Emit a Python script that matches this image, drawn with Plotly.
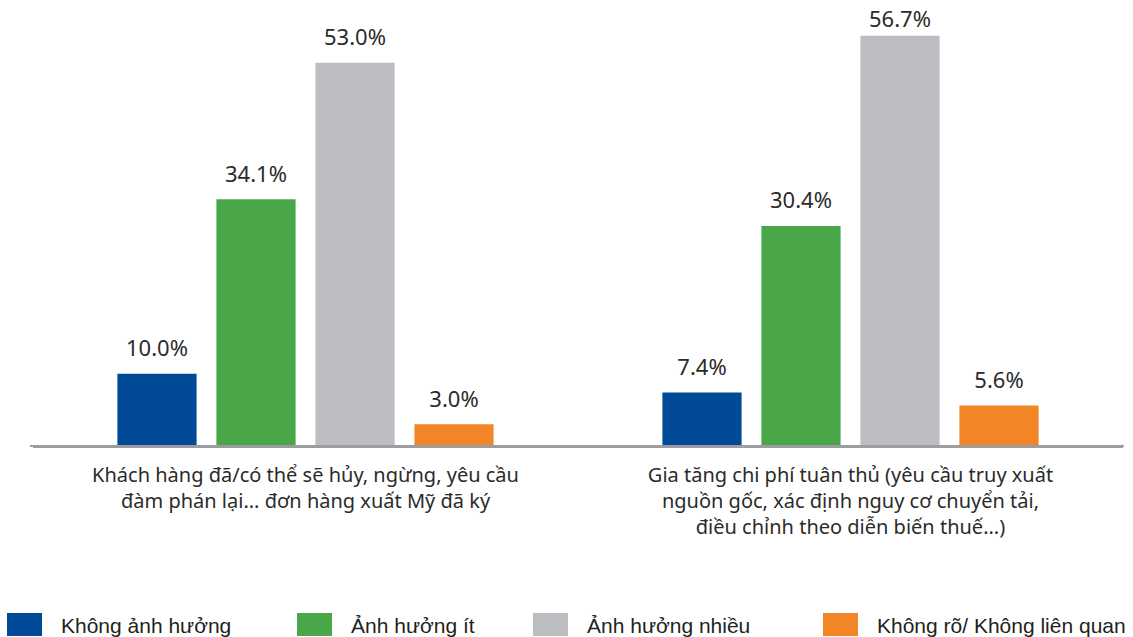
import plotly.graph_objects as go

categories = [
    "Khách hàng đã/có thể sẽ hủy, ngừng, yêu cầu<br>đàm phán lại... đơn hàng xuất Mỹ đã ký",
    "Gia tăng chi phí tuân thủ (yêu cầu truy xuất<br>nguồn gốc, xác định nguy cơ chuyển tải,<br>điều chỉnh theo diễn biến thuế...)",
]
series_names = ["Không ảnh hưởng", "Ảnh hưởng ít", "Ảnh hưởng nhiều", "Không rõ/ Không liên quan"]
khong_anh_huong = [10.0, 7.4]
anh_huong_it = [34.1, 30.4]
anh_huong_nhieu = [53.0, 56.7]
khong_ro = [3.0, 5.6]
series_values = [khong_anh_huong, anh_huong_it, anh_huong_nhieu, khong_ro]
colors = ["#004A97", "#49A74A", "#BCBDC0", "#F28526"]

TXT = "#2B2B2B"
FONT = "Noto Sans, Open Sans, sans-serif"
ML, MR, MT, MB = 33, 10, 12, 191
W, H = 1133, 637
Y_MAX = 60
LABEL_SIZE = 22
plot_w = W - ML - MR
plot_h = H - MT - MB
px_per_unit = plot_h / Y_MAX
LABEL_GAP = 1.2                                   # normal label spacing (axis units)
label_units = LABEL_SIZE * 1.3 / px_per_unit      # label height in axis units
top_limit = Y_MAX + MT / px_per_unit              # top edge of the canvas in axis units

def gap_for(v):
    # labels that would run off the top of the canvas sit right on the bar
    return LABEL_GAP if v + LABEL_GAP + label_units <= top_limit else 0.0001

fig = go.Figure()
for i, (name, vals, col) in enumerate(zip(series_names, series_values, colors)):
    fig.add_trace(go.Bar(
        x=categories, y=vals, name=name, marker=dict(color=col, line=dict(width=0)),
        offsetgroup=str(i), showlegend=False, hoverinfo="y+name",
    ))
    # transparent carrier bar to hold the value label slightly above the bar
    fig.add_trace(go.Bar(
        x=categories, y=[gap_for(v) for v in vals], base=vals,
        marker=dict(color="rgba(0,0,0,0)", line=dict(width=0)),
        offsetgroup=str(i), showlegend=False, hoverinfo="skip",
        text=[f"{v:.1f}%" for v in vals], textposition="outside",
        textfont=dict(family=FONT, size=LABEL_SIZE, color=TXT), cliponaxis=False,
    ))

fig.update_layout(
    width=W, height=H,
    margin=dict(l=ML, r=MR, t=MT, b=MB),
    paper_bgcolor="white", plot_bgcolor="white",
    barmode="group", bargap=0.2734, bargroupgap=0.2,
    font=dict(family=FONT, color=TXT),
    showlegend=False,
)
fig.update_xaxes(
    showline=True, linecolor="#9D9D9F", linewidth=2, ticks="", showgrid=False,
    tickfont=dict(family=FONT, size=20, color=TXT), ticklabelstandoff=10,
)
fig.update_yaxes(range=[0, Y_MAX], visible=False, showgrid=False, zeroline=False)

def px_x(p):
    return (p - ML) / plot_w
def px_y(p):
    return (H - MB - p) / plot_h

# extend baseline slightly to the left like the reference
fig.add_shape(type="line", xref="paper", yref="paper", x0=px_x(30), x1=px_x(1124),
              y0=0, y1=0, line=dict(color="#9D9D9F", width=2))

# custom legend (large swatches)
sw_left = [7, 297, 533, 823]
for left, name, col in zip(sw_left, series_names, colors):
    fig.add_shape(type="rect", xref="paper", yref="paper",
                  x0=px_x(left), x1=px_x(left + 35), y0=px_y(636), y1=px_y(613),
                  fillcolor=col, line=dict(width=0))
    fig.add_annotation(xref="paper", yref="paper", x=px_x(left + 52), y=px_y(625),
                       xanchor="left", yanchor="middle", showarrow=False, text=name,
                       font=dict(family="Liberation Sans, Arial, sans-serif",
                                 size=21, color="#231F20"))

fig.write_html("out.html", config={"displayModeBar": False},
               post_script="document.body.style.margin='0';")
